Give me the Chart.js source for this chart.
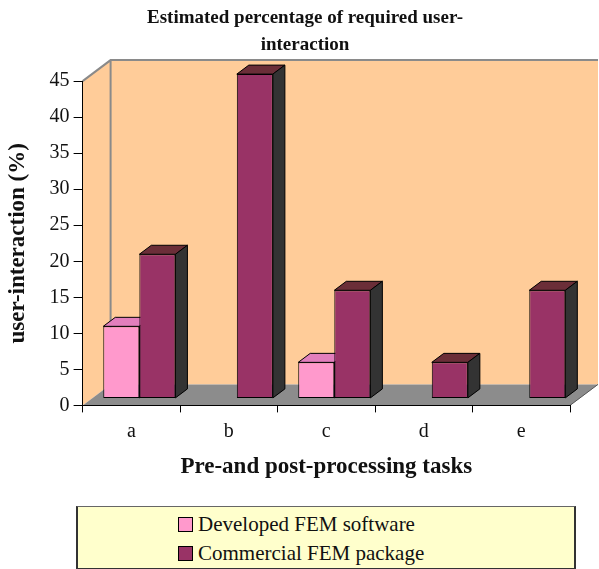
<!DOCTYPE html>
<html>
<head>
<meta charset="utf-8">
<script src="https://cdn.jsdelivr.net/npm/chart.js@4"></script>
<style>
  body { margin: 0; background: #fff; }
  #wrap { position: relative; width: 599px; height: 569px; }
  #box { position: absolute; left: 0; top: 0; width: 599px; height: 484px; }
  #legend {
    position: absolute; left: 76px; top: 506px; width: 496px; height: 61px;
    background: #ffffcc; border: 2px solid #333; border-top: 1px solid #666;
    font-family: "Liberation Serif", "Times New Roman", serif; font-size: 21px; color: #111;
  }
  #legend .item { position: absolute; left: 100px; height: 26px; line-height: 26px; white-space: nowrap; }
  #legend .sw { display: inline-block; width: 13px; height: 13px; border: 1px solid #000; margin-right: 5px; vertical-align: -1px; }
</style>
</head>
<body>
<div id="wrap">
  <div id="box"><canvas id="chart"></canvas></div>
  <div id="legend"></div>
</div>
<script>
// data
const categories = ['a', 'b', 'c', 'd', 'e'];
const developedFem = [10, 0, 5, 0, 0];
const commercialFem = [20, 45, 15, 5, 15];
const seriesNames = ['Developed FEM software', 'Commercial FEM package'];
const yMin = 0, yMax = 45, yStep = 5;

const frontColors = ['#ff99cc', '#993366'];
const topColors = ['#e27fbd', '#6b2e38'];
const sideColor = '#333333';
const serif = '"Liberation Serif", "Times New Roman", serif';

// excel-ish 3d look
const wallDepth = { dx: 28, dy: 21 };
const barShift = { dx: 8, dy: 7 };
const barDepth = { dx: 12, dy: 9 };

function poly(ctx, pts, fill, stroke) {
  ctx.beginPath();
  ctx.moveTo(pts[0][0], pts[0][1]);
  for (let i = 1; i < pts.length; i++) ctx.lineTo(pts[i][0], pts[i][1]);
  ctx.closePath();
  ctx.fillStyle = fill;
  ctx.fill();
  if (stroke) {
    ctx.strokeStyle = stroke;
    ctx.lineWidth = 1;
    ctx.stroke();
  }
}

const threeD = {
  id: 'threeD',
  beforeDraw(chart) {
    const ctx = chart.ctx;
    const a = chart.chartArea;
    const y = chart.scales.y;
    const top = y.getPixelForValue(yMax), bottom = y.getPixelForValue(yMin);
    const dx = wallDepth.dx, dy = wallDepth.dy;
    ctx.save();
    // back wall + side wall
    poly(ctx, [[a.left + dx, top - dy], [a.right + dx, top - dy], [a.right + dx, bottom - dy], [a.left + dx, bottom - dy]], '#ffcc99');
    poly(ctx, [[a.left, top], [a.left + dx, top - dy], [a.left + dx, bottom - dy], [a.left, bottom]], '#ffcc99');
    // floor
    poly(ctx, [[a.left, bottom], [a.left + dx, bottom - dy], [a.right + dx, bottom - dy], [a.right, bottom]], '#8c8c8c');
    ctx.strokeStyle = '#8a8a8a';
    ctx.lineWidth = 2;
    ctx.beginPath();
    ctx.moveTo(a.left, top);
    ctx.lineTo(a.left + dx, top - dy);
    ctx.lineTo(a.right + dx, top - dy);
    ctx.moveTo(a.left + dx, top - dy);
    ctx.lineTo(a.left + dx, bottom - dy);
    ctx.stroke();
    ctx.strokeStyle = '#555';
    ctx.lineWidth = 1;
    ctx.beginPath();
    ctx.moveTo(a.right + dx, bottom - dy);
    ctx.lineTo(a.right, bottom);
    ctx.stroke();
    ctx.restore();
  },
  beforeDatasetsDraw(chart) {
    const ctx = chart.ctx;
    ctx.save();
    chart.data.datasets.forEach((ds, di) => {
      const meta = chart.getDatasetMeta(di);
      meta.data.forEach((bar, i) => {
        if (!(ds.data[i] > 0)) return;
        const p = bar.getProps(['x', 'y', 'base', 'width'], true);
        const l = p.x - p.width / 2 + barShift.dx, r = p.x + p.width / 2 + barShift.dx;
        const t = p.y - barShift.dy, b = p.base - barShift.dy;
        poly(ctx, [[l, t], [l + barDepth.dx, t - barDepth.dy], [r + barDepth.dx, t - barDepth.dy], [r, t]], topColors[di], '#000');
        poly(ctx, [[r, t], [r + barDepth.dx, t - barDepth.dy], [r + barDepth.dx, b - barDepth.dy], [r, b]], sideColor, '#000');
      });
    });
    ctx.restore();
  },
  beforeDatasetDraw(chart) {
    chart.ctx.save();
    chart.ctx.translate(barShift.dx, -barShift.dy);
  },
  afterDatasetDraw(chart) {
    chart.ctx.restore();
  }
};

document.addEventListener('DOMContentLoaded', function () {
  const datasets = [developedFem, commercialFem].map((vals, i) => ({
    label: seriesNames[i],
    data: vals,
    backgroundColor: frontColors[i],
    borderColor: '#000',
    borderWidth: c => (c.raw > 0 ? 1 : 0),
    borderSkipped: false,
    categoryPercentage: 0.74,
    barPercentage: 1,
    clip: false
  }));

  new Chart(document.querySelector('#chart'), {
    type: 'bar',
    data: { labels: categories, datasets: datasets },
    options: {
      responsive: true,
      maintainAspectRatio: false,
      animation: false,
      // left padding pushes the title centre right, y title pulled back with negative padding
      layout: { padding: { left: 40, right: 29, top: 0, bottom: 2 } },
      plugins: {
        legend: { display: false },
        tooltip: { enabled: false },
        title: {
          display: true,
          text: ['Estimated percentage of required user-', 'interaction'],
          color: '#111',
          font: { family: serif, size: 19, weight: 'bold', lineHeight: 1.45 },
          padding: { top: 4, bottom: 22 }
        }
      },
      scales: {
        x: {
          grid: { display: true, drawOnChartArea: false, drawTicks: true, tickLength: 7, color: '#000' },
          border: { display: true, color: '#000', width: 1 },
          ticks: { color: '#111', font: { family: serif, size: 20 }, padding: 7 },
          title: {
            display: true,
            text: 'Pre-and post-processing tasks',
            color: '#111',
            font: { family: serif, size: 23, weight: 'bold' },
            padding: { top: 3, bottom: 1 }
          }
        },
        y: {
          min: yMin,
          max: yMax,
          grid: { display: true, drawOnChartArea: false, drawTicks: true, tickLength: 9, color: '#000' },
          border: { display: true, color: '#000', width: 1 },
          ticks: { stepSize: yStep, color: '#111', font: { family: serif, size: 20 }, padding: 4 },
          title: {
            display: true,
            text: 'user-interaction (%)',
            color: '#111',
            font: { family: serif, size: 23, weight: 'bold' },
            padding: { top: -36, bottom: 14 }
          }
        }
      }
    },
    plugins: [threeD]
  });

  // legend box
  const lg = document.querySelector('#legend');
  seriesNames.forEach((name, i) => {
    const item = document.createElement('div');
    item.className = 'item';
    item.style.top = (4 + i * 29) + 'px';
    item.innerHTML = '<span class="sw" style="background:' + frontColors[i] + '"></span>' + name;
    lg.appendChild(item);
  });
});
</script>
</body>
</html>
